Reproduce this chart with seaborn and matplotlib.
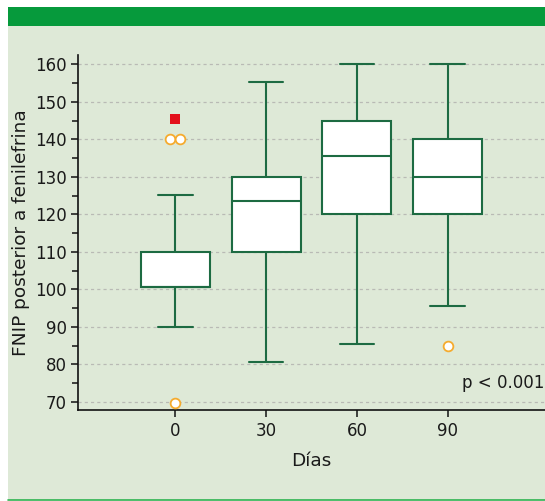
import numpy as np
import pandas as pd
import matplotlib
matplotlib.use("Agg")
import matplotlib.pyplot as plt
from matplotlib.patches import Rectangle
from matplotlib.lines import Line2D
from matplotlib.ticker import MultipleLocator
import seaborn as sns

# --- data ---
days = ["0", "30", "60", "90"]
whisker_low = [90.0, 80.5, 85.3, 95.5]
q1 = [100.5, 110.0, 120.0, 120.0]
median = [100.5, 123.5, 135.5, 130.0]
q3 = [110.0, 130.0, 144.8, 140.2]
whisker_high = [125.2, 155.3, 160.0, 160.0]

outlier_days = ["0", "0", "0", "90"]
outlier_values = [140.0, 140.0, 69.6, 85.0]

extreme_days = ["0"]
extreme_values = [145.3]

yticks = [70, 80, 90, 100, 110, 120, 130, 140, 150, 160]

COLORS = {"box": "#1d6b42", "bg": "#dee9d7", "band": "#069a3c",
          "line": "#2eb350", "grid": "#b9bab5", "out": "#f5ab2e", "ext": "#e3101b"}

# five numbers per group -> with whis=(0, 100) seaborn reproduces them exactly
rows = []
for i, d in enumerate(days):
    for v in (whisker_low[i], q1[i], median[i], q3[i], whisker_high[i]):
        rows.append({"Días": d, "FNIP": v})
box_df = pd.DataFrame(rows)
out_df = pd.DataFrame({"Días": outlier_days, "FNIP": outlier_values})
ext_df = pd.DataFrame({"Días": extreme_days, "FNIP": extreme_values})

sns.set_theme(style="ticks")
plt.rcParams["font.family"] = ["DejaVu Sans"]

W, H = 545, 501
fig = plt.figure(figsize=(W / 100, H / 100), dpi=100, facecolor="white")

# panel background, top band and bottom rule
fig.patches.append(Rectangle((8 / W, 1 / H), 1 - 8 / W, (475 - 1) / H,
                             transform=fig.transFigure, facecolor=COLORS["bg"],
                             edgecolor="none", zorder=-10))
fig.patches.append(Rectangle((8 / W, (H - 26) / H), 1 - 8 / W, 19 / H,
                             transform=fig.transFigure, facecolor=COLORS["band"],
                             edgecolor="none", zorder=-9))
fig.lines.append(Line2D([8 / W, 1], [1.5 / H, 1.5 / H], transform=fig.transFigure,
                        color=COLORS["line"], linewidth=1.2))

ax = fig.add_axes([78 / W, (H - 410) / H, (W - 78) / W, 355 / H])
ax.set_facecolor("none")

sns.boxplot(data=box_df, x="Días", y="FNIP", order=days, whis=(0, 100),
            width=0.76, color="white", saturation=1, linecolor=COLORS["box"],
            linewidth=1.5, showfliers=False, ax=ax, zorder=3)
n_before = len(ax.collections)
sns.stripplot(data=out_df, x="Días", y="FNIP", order=days, jitter=False,
              color="white", edgecolor=COLORS["out"], linewidth=1.3, size=7,
              ax=ax, zorder=4)
out_colls = ax.collections[n_before:]
sns.stripplot(data=ext_df, x="Días", y="FNIP", order=days, jitter=False,
              marker="s", color=COLORS["ext"], linewidth=0, size=7.5, ax=ax, zorder=4)

ax.set_xlim(-1.072, 4.071)
ax.set_ylim(67.8, 162.5)

# repeated outliers sit side by side, one marker apart, centred on the group
px_per_cat = ax.transData.transform([[1, 0]])[0, 0] - ax.transData.transform([[0, 0]])[0, 0]
step = 10.0 / px_per_cat
for coll in out_colls:
    xy = np.asarray(coll.get_offsets()).copy()
    keys = [(round(x), round(y, 3)) for x, y in xy]
    for key in set(keys):
        idx = [i for i, k in enumerate(keys) if k == key]
        n = len(idx)
        for j, i in enumerate(idx):
            xy[i, 0] += (j - (n - 1) / 2) * step
    coll.set_offsets(xy)

ax.set_yticks(yticks)
ax.yaxis.set_minor_locator(MultipleLocator(5))
ax.grid(axis="y", which="major", color=COLORS["grid"], linestyle=(0, (2.5, 2.5)),
        linewidth=0.9)
ax.set_axisbelow(True)

for side in ("top", "right"):
    ax.spines[side].set_visible(False)
for side in ("left", "bottom"):
    ax.spines[side].set_color("#111111")
    ax.spines[side].set_linewidth(1.2)

ax.tick_params(axis="both", which="major", length=5, width=1.1, color="#111111",
               labelsize=12, labelcolor="#1a1a1a", pad=3)
ax.tick_params(axis="x", which="major", pad=4)
ax.tick_params(axis="y", which="minor", length=4, width=1.1, color="#111111")

ax.set_xlabel("Días", fontsize=13.3, color="#1a1a1a", labelpad=8)
ax.set_ylabel("FNIP posterior a fenilefrina", fontsize=13.3, color="#1a1a1a", labelpad=4)

ax.text(4.06, 75.0, "p < 0.001", ha="right", va="center", fontsize=12, color="#1a1a1a")

fig.savefig("out.png", dpi=100, facecolor="white")
